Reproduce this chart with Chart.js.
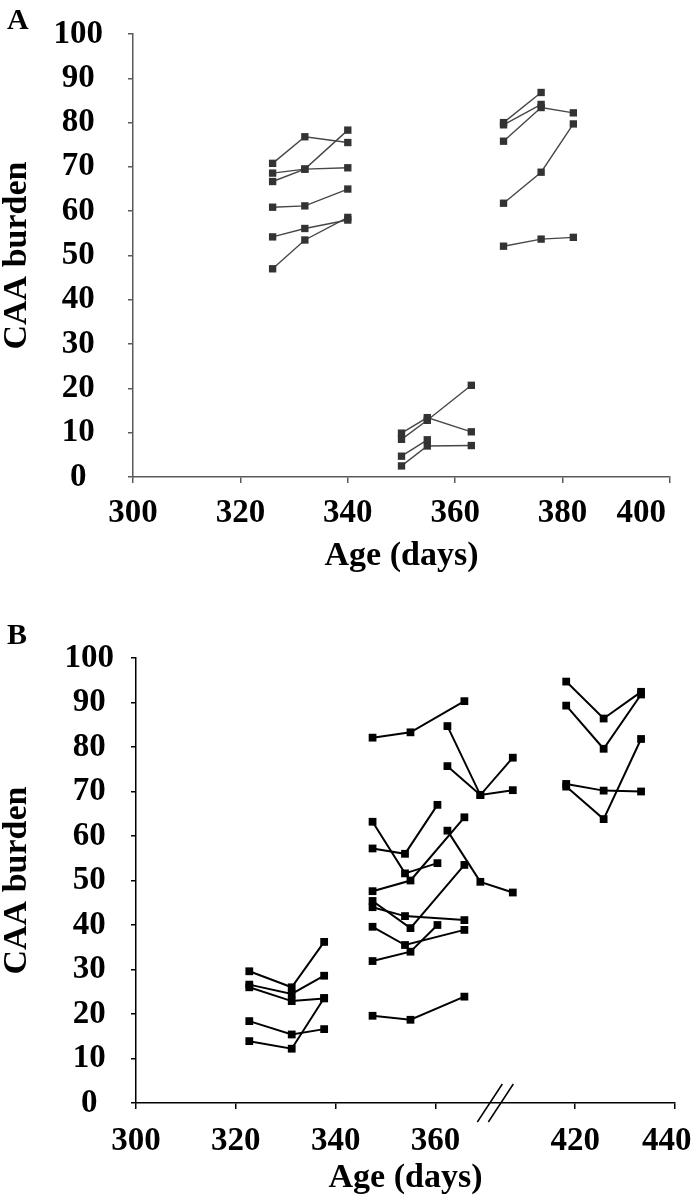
<!DOCTYPE html>
<html>
<head>
<meta charset="utf-8">
<script src="https://cdn.jsdelivr.net/npm/chart.js@4.4.0/dist/chart.umd.min.js"></script>
<style>
  body { margin: 0; background: #fff; width: 696px; height: 1200px; position: relative; overflow: hidden; }
  .panel { position: absolute; left: 0; }
  .panel canvas { display: block; }
  .tag { position: absolute; left: 7px; font-family: "Liberation Serif", "Times New Roman", serif; font-weight: bold; line-height: 1; }
</style>
</head>
<body>
<div class="panel" style="top:0"><canvas id="chartA" width="696" height="600"></canvas></div>
<div class="tag" style="top:4px; font-size:30px">A</div>
<div class="panel" style="top:610px"><canvas id="chartB" width="696" height="590"></canvas></div>
<div class="tag" style="top:619px; font-size:30px">B</div>

<script>
// ---- Panel A data (age in days, CAA burden) ----
const agesA1 = [326, 332, 340];
const burdenA1 = [
    [70.8, 76.8, 75.5],
    [68.6, 69.5, 69.8],
    [66.7, 69.5, 78.3],
    [60.9, 61.2, 65.0],
    [54.2, 56.1, 58.0],
    [47.0, 53.5, 58.6]
];
const agesA2 = [350, 354.8, 363];
const burdenA2 = [
    [9.9, 13.4, 10.2],
    [8.5, 12.8, 20.7],
    [4.7, 8.4, null],
    [2.5, 7.0, 7.1]
];
const agesA3 = [369, 376, 382];
const burdenA3 = [
    [80.0, 86.8, null],
    [79.5, 84.1, null],
    [75.8, 83.4, 82.2],
    [61.8, 68.8, 79.7],
    [52.1, 53.7, 54.1]
];

// ---- Panel B data ----
const agesB1 = [322.7, 331.2, 337.7];
const burdenB1 = [
    [29.6, 26.0, 36.2],
    [26.6, 24.5, 28.6],
    [26.0, 22.9, 23.5],
    [18.4, 15.4, 16.6],
    [13.9, 12.2, 23.6]
];
// second group: animals sampled at slightly different days
const agesB2 = [
    [347.4, 355.0, 365.8],
    [347.4, 355.0, 365.8],
    [347.4, 353.9, 360.4],
    [347.4, 353.9, 360.4],
    [347.4, 355.0, 365.8],
    [347.4, 355.0, 365.8],
    [347.4, 353.9, 365.8],
    [347.4, 353.9, 365.8],
    [347.4, 355.0, 360.4]
];
const burdenB2 = [
    [82.1, 83.3, 90.3],
    [19.6, 18.7, 23.9],
    [63.2, 51.6, 53.9],
    [57.2, 56.0, 67.0],
    [47.6, 50.0, 64.2],
    [45.4, 39.3, 53.5],
    [44.0, 42.0, 41.1],
    [39.6, 35.5, 38.9],
    [31.9, 34.0, 40.0]
];
const agesB3 = [362.4, 369.0, 375.5];
const burdenB3 = [
    [84.7, 69.2, 77.6],
    [75.7, 69.2, 70.3],
    [61.2, 49.7, 47.3]
];
const agesB4 = [418.2, 425.7, 433.2];
const burdenB4 = [
    [94.7, 86.4, 92.4],
    [89.3, 79.6, 91.8],
    [71.7, 70.2, 70.0],
    [71.1, 63.8, 81.8]
];

// axis ticks
const ageTicksA = [300, 320, 340, 360, 380, 400];
const ageTicksB = [300, 320, 340, 360, 420, 440];
const burdenTicks = [0, 10, 20, 30, 40, 50, 60, 70, 80, 90, 100];

// panel B x axis is broken between 360 and 420
const breakAt = 372;
const breakShift = 32;
const toAxisB = age => (age > 390 ? age - breakShift : age);

const fontFamily = '"Liberation Serif", "Times New Roman", serif';
const tickFont = { family: fontFamily, size: 33, weight: 'bold' };
const titleFont = { family: fontFamily, size: 34, weight: 'bold', lineHeight: 1 };

// build one line dataset per animal
function makeSets(ages, values, style, mapX) {
    return values.map(function(row, i) {
        const xs = Array.isArray(ages[0]) ? ages[i] : ages;
        return {
            data: row.map((v, j) => ({ x: mapX ? mapX(xs[j]) : xs[j], y: v })),
            borderColor: style.line,
            borderWidth: style.width,
            pointStyle: 'rect',
            pointRadius: style.radius,
            pointBackgroundColor: style.point,
            pointBorderWidth: 0,
            pointHoverRadius: style.radius,
            tension: 0,
            spanGaps: false
        };
    });
}

// keep the plot box fixed: drop the label overhang padding chart.js adds
function noPad(s) {
    s.paddingTop = 0;
    s.paddingBottom = 0;
    s.paddingLeft = 0;
    s.paddingRight = 0;
}

function yAxis(color, width, pad) {
    return {
        min: 0,
        max: 100,
        afterBuildTicks: s => { s.ticks = burdenTicks.map(v => ({ value: v })); },
        ticks: { font: tickFont, color: '#000', padding: pad, crossAlign: 'center', autoSkip: false },
        grid: { drawOnChartArea: false, drawTicks: true, tickLength: 5, color: color, lineWidth: 1.5 },
        border: { color: color, width: 1.5 },
        title: { display: true, text: 'CAA burden', font: titleFont, color: '#000', padding: 0 },
        afterFit: s => { s.width = width; noPad(s); }
    };
}

function xAxis(min, max, ticks, color, height, tickPad, titlePad, label) {
    return {
        type: 'linear',
        min: min,
        max: max,
        afterBuildTicks: s => { s.ticks = ticks.map(v => ({ value: v })); },
        ticks: { font: tickFont, color: '#000', padding: tickPad, maxRotation: 0, autoSkip: false, callback: label },
        grid: { drawOnChartArea: false, drawTicks: true, tickLength: 6, color: color, lineWidth: 1.5 },
        border: { color: color, width: 1.5 },
        title: { display: true, text: 'Age (days)', font: titleFont, color: '#000', padding: { top: 0, bottom: titlePad } },
        afterFit: s => { s.height = height; noPad(s); }
    };
}

// the last x label sits pulled in from the axis end, like the original;
// trailing spaces shift the centred text left
const lastLabelA = v => (v === 400 ? v + '       ' : v);
const lastLabelB = function(v) {
    const age = v > breakAt ? v + breakShift : v;
    return age === 440 ? age + '  ' : age;
};

// small plugin for the // marks on the broken axis
const axisBreakPlugin = {
    id: 'axisBreak',
    afterDraw: function(chart) {
        const xc = chart.scales.x.getPixelForValue(breakAt);
        const yb = chart.chartArea.bottom;
        const ctx = chart.ctx;
        ctx.save();
        ctx.strokeStyle = '#000';
        ctx.lineWidth = 1.5;
        [-5.5, 5.5].forEach(function(dx) {
            ctx.beginPath();
            ctx.moveTo(xc + dx - 12.5, yb + 19);
            ctx.lineTo(xc + dx + 12.5, yb - 19);
            ctx.stroke();
        });
        ctx.restore();
    }
};

const styleA = { line: '#474747', point: '#333', width: 1.4, radius: 5.2 };
const styleB = { line: '#000', point: '#000', width: 2, radius: 5.5 };

// Panel A
new Chart(document.getElementById('chartA').getContext('2d'), {
    type: 'line',
    data: {
        datasets: [].concat(
            makeSets(agesA1, burdenA1, styleA),
            makeSets(agesA2, burdenA2, styleA),
            makeSets(agesA3, burdenA3, styleA)
        )
    },
    options: {
        responsive: false,
        animation: false,
        layout: { padding: { top: 34, right: 26, left: 0, bottom: 0 } },
        scales: {
            x: xAxis(300, 400, ageTicksA, '#5a5a5a', 123, 11, 27, lastLabelA),
            y: yAxis('#5a5a5a', 133, 25)
        },
        plugins: { legend: { display: false }, tooltip: { enabled: false } }
    }
});

// Panel B
new Chart(document.getElementById('chartB').getContext('2d'), {
    type: 'line',
    data: {
        datasets: [].concat(
            makeSets(agesB1, burdenB1, styleB, toAxisB),
            makeSets(agesB2, burdenB2, styleB, toAxisB),
            makeSets(agesB3, burdenB3, styleB, toAxisB),
            makeSets(agesB4, burdenB4, styleB, toAxisB)
        )
    },
    options: {
        responsive: false,
        animation: false,
        layout: { padding: { top: 48, right: 21, left: 0, bottom: 0 } },
        scales: {
            x: xAxis(300, toAxisB(440), ageTicksB.map(toAxisB), '#000', 97, 13, 5, lastLabelB),
            y: yAxis('#000', 136, 17)
        },
        plugins: { legend: { display: false }, tooltip: { enabled: false } }
    },
    plugins: [axisBreakPlugin]
});
</script>
</body>
</html>
